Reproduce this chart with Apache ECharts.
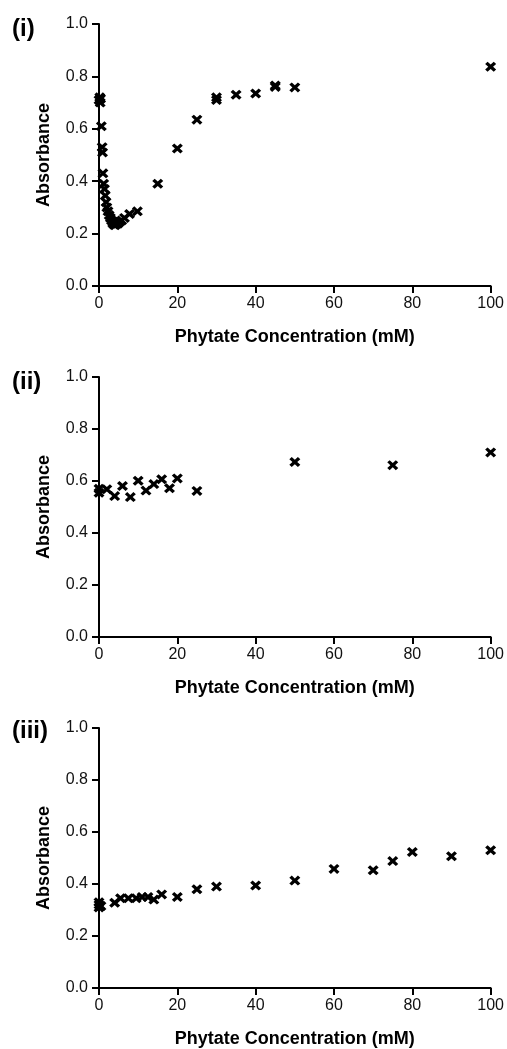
<!DOCTYPE html>
<html>
<head>
<meta charset="utf-8">
<script src="https://cdn.jsdelivr.net/npm/echarts@6/dist/echarts.min.js"></script>
<style>
  body { margin: 0; background: #fff; }
  #chart { width: 507px; height: 1049px; }
</style>
</head>
<body>
<div id="chart"></div>
<script>
// panel (i)
var conc1 = [0, 0.2, 0.3, 0.4, 0.6, 0.8, 0.9, 1.0, 1.2, 1.4, 1.6, 1.8, 2.0, 2.3, 2.6, 2.9, 3.2, 3.5, 3.8, 4.1,
  4.4, 4.8, 5.3, 5.8, 6.5, 7.8, 9.8, 15, 20, 25, 30, 30, 35, 40, 45, 45, 50, 100];
var abs1 = [0.71, 0.72, 0.70, 0.715, 0.61, 0.53, 0.51, 0.43, 0.39, 0.37, 0.345, 0.32, 0.30, 0.285, 0.27, 0.26, 0.25, 0.24, 0.235, 0.232,
  0.24, 0.238, 0.245, 0.25, 0.26, 0.275, 0.285, 0.39, 0.525, 0.635, 0.72, 0.71, 0.73, 0.735, 0.765, 0.76, 0.758, 0.837];
// panel (ii)
var conc2 = [0, 0, 2, 4, 6, 8, 10, 12, 14, 16, 18, 20, 25, 50, 75, 100];
var abs2 = [0.555, 0.57, 0.568, 0.542, 0.581, 0.538, 0.601, 0.563, 0.588, 0.607, 0.572, 0.61, 0.562, 0.673, 0.661, 0.71];
// panel (iii)
var conc3 = [0, 0, 0, 0.5, 4, 5.5, 7.5, 9.5, 11, 12.5, 14, 16, 20, 25, 30, 40, 50, 60, 70, 75, 80, 90, 100];
var abs3 = [0.31, 0.32, 0.33, 0.315, 0.328, 0.345, 0.345, 0.345, 0.35, 0.35, 0.34, 0.36, 0.35, 0.38, 0.39, 0.394,
  0.413, 0.458, 0.453, 0.488, 0.523, 0.507, 0.53];

var panelLabels = ['(i)', '(ii)', '(iii)'];
var xTitle = 'Phytate Concentration (mM)';
var yTitle = 'Absorbance';

var font = 'Liberation Sans, Arial, Helvetica, sans-serif';
// filled "x" marker
var cross = 'path://M0,2.2 L2.2,0 L5,2.8 L7.8,0 L10,2.2 L7.2,5 L10,7.8 L7.8,10 L5,7.2 L2.2,10 L0,7.8 L2.8,5 Z';

var pairs = function (xs, ys) {
  var res = [];
  for (var i = 0; i < xs.length; i++) {
    res.push([xs[i], ys[i]]);
  }
  return res;
};

var panels = [
  {top: 24, height: 262, data: pairs(conc1, abs1), labelTop: 17},
  {top: 377, height: 260, data: pairs(conc2, abs2), labelTop: 370},
  {top: 728, height: 261, data: pairs(conc3, abs3), labelTop: 719}
];

var option = {
  animation: false,
  backgroundColor: '#fff',
  title: [], grid: [], xAxis: [], yAxis: [], series: []
};

panels.forEach(function (p, i) {
  option.title.push({
    text: panelLabels[i], left: 12, top: p.labelTop, padding: 0,
    textStyle: {fontFamily: font, fontSize: 24, fontWeight: 'bold', color: '#000'}
  });
  option.grid.push({left: 99, width: 393, top: p.top, height: p.height});
  option.xAxis.push({
    type: 'value', gridIndex: i, min: 0, max: 100, interval: 20,
    name: xTitle, nameLocation: 'middle', nameGap: 42,
    nameTextStyle: {fontFamily: font, fontSize: 18, fontWeight: 'bold', color: '#000'},
    axisLine: {show: true, onZero: false, lineStyle: {color: '#000', width: 2}},
    axisTick: {show: true, length: 7, lineStyle: {color: '#000', width: 2}},
    axisLabel: {margin: 10, fontFamily: font, fontSize: 16, color: '#111'},
    splitLine: {show: false}
  });
  option.yAxis.push({
    type: 'value', gridIndex: i, min: 0, max: 1, interval: 0.2,
    name: yTitle, nameLocation: 'middle', nameGap: 46, nameRotate: 90,
    nameTextStyle: {fontFamily: font, fontSize: 18, fontWeight: 'bold', color: '#000'},
    axisLine: {show: true, onZero: false, lineStyle: {color: '#000', width: 2}},
    axisTick: {show: true, length: 7, lineStyle: {color: '#000', width: 2}},
    axisLabel: {
      margin: 11, fontFamily: font, fontSize: 16, color: '#111',
      formatter: function (v) { return v.toFixed(1); }
    },
    splitLine: {show: false}
  });
  option.series.push({
    type: 'scatter', xAxisIndex: i, yAxisIndex: i,
    data: p.data,
    symbol: cross, symbolSize: [11, 10],
    itemStyle: {color: '#000', opacity: 1}
  });
});

var myChart = echarts.init(document.getElementById('chart'));
myChart.setOption(option);
</script>
</body>
</html>
